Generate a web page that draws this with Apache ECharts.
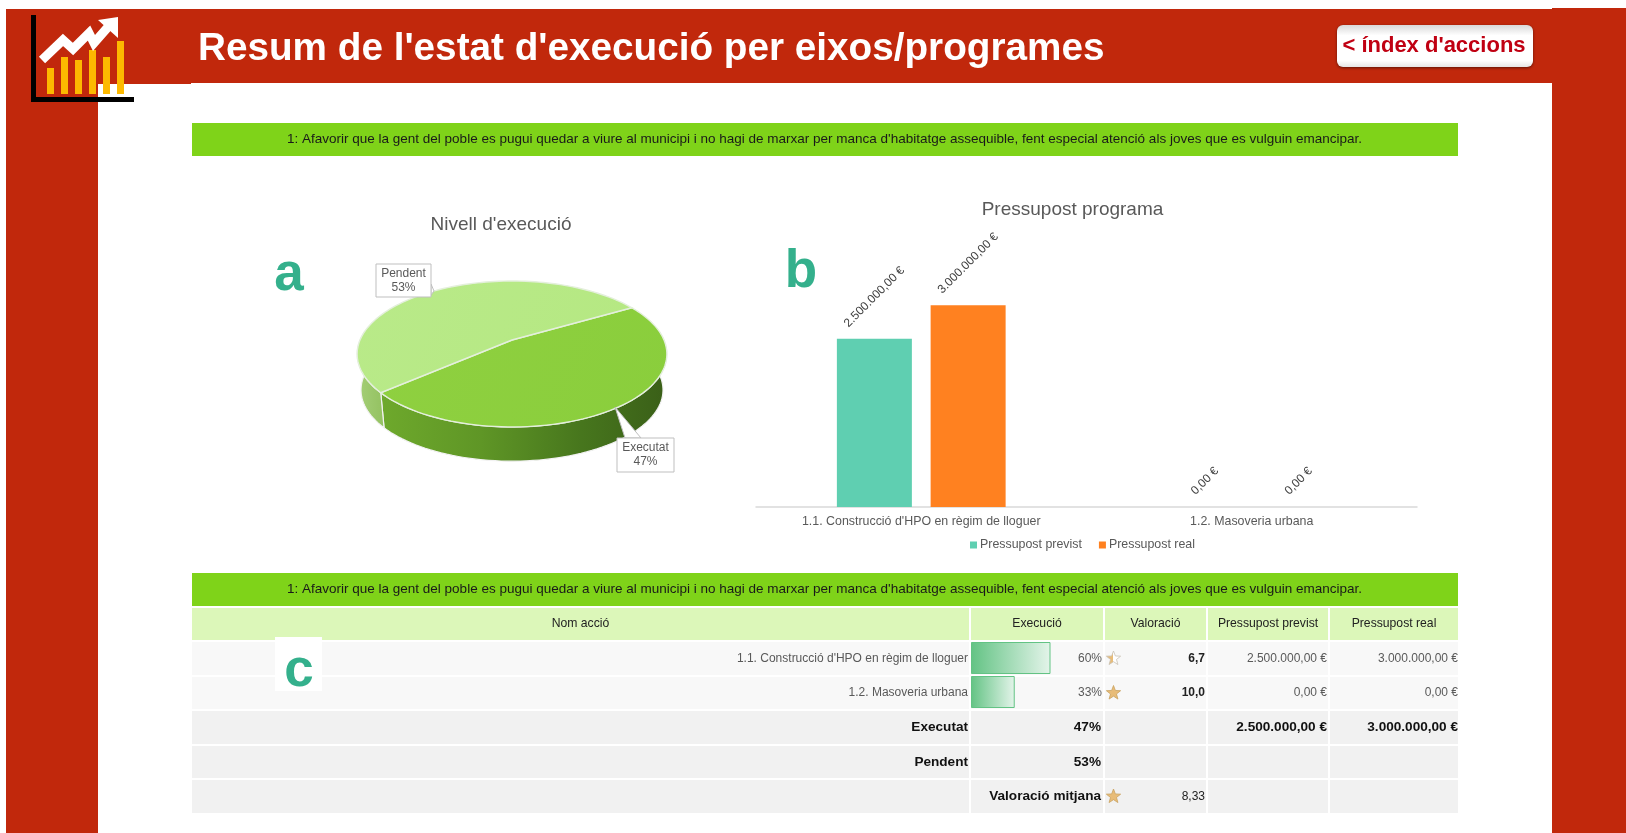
<!DOCTYPE html>
<html><head><meta charset="utf-8">
<style>html,body{margin:0;padding:0;background:#fff}#c{width:1626px;height:833px}</style>
<script src="https://cdn.jsdelivr.net/npm/echarts@6/dist/echarts.min.js"></script></head>
<body><div id="c"></div>
<script>
const pageTitle = "Resum de l'estat d'execució per eixos/programes";
const buttonText = "< índex d'accions";
const bandText = "1: Afavorir que la gent del poble es pugui quedar a viure al municipi i no hagi de marxar per manca d'habitatge assequible, fent especial atenció als joves que es vulguin emancipar.";
const pieNames = ["Executat", "Pendent"];
const pieValues = [47, 53];
const actions = ["1.1. Construcció d'HPO en règim de lloguer", "1.2. Masoveria urbana"];
const budgetPlanned = [2500000, 0];
const budgetReal = [3000000, 0];
const execution = [60, 33];
const ratings = [6.7, 10];
const ratingAvg = 8.33;
const budgetSeries = ["Pressupost previst", "Pressupost real"];
const tableHead = ["Nom acció", "Execució", "Valoració", "Pressupost previst", "Pressupost real"];

const FF = '"Liberation Sans", Arial, sans-serif';
const RED = '#c1280c', GREEN = '#7fd319', TEAL = '#34b08c';
const money = v => v.toFixed(2).replace('.', ',').replace(/\B(?=(\d{3})+(?!\d))/g, '.') + ' €';
const g = [];
const rect = (x, y, w, h, fill, extra) => g.push(Object.assign({type:'rect', shape:{x, y, width:w, height:h}, style:{fill}}, extra||{}));
const text = (t, x, y, font, fill, align) => g.push({type:'text', z:5, style:{text:t, x, y, font:font + ' ' + FF, fill, textAlign:align||'center', textVerticalAlign:'middle'}});

// page frame
rect(6, 9, 92, 824, RED);
rect(6, 9, 185, 75, RED);
rect(191, 9, 1361, 74, RED);
rect(1552, 8, 74, 825, RED);
// logo
[[47,68],[61,57],[75,60],[89,50],[103,57],[117,41]].forEach(b => rect(b[0], b[1], 7, 94 - b[1], '#fdb900', {z:2}));
g.push({type:'polyline', z:3, shape:{points:[[42,60],[63,40],[73,49],[89,33],[94,43],[108,27]]}, style:{stroke:'#fff', lineWidth:9, fill:null, lineJoin:'miter'}});
g.push({type:'polygon', z:3, shape:{points:[[98,20],[118,17],[118,38]]}, style:{fill:'#fff'}});
rect(31, 15, 5, 87, '#000', {z:3});
rect(31, 97, 103, 5, '#000', {z:3});
// button
g.push({type:'rect', z:3, shape:{x:1337, y:25, width:196, height:42, r:6}, style:{fill:{type:'linear',x:0,y:0,x2:0,y2:1,colorStops:[{offset:0,color:'#d9d9d9'},{offset:.25,color:'#fff'},{offset:.85,color:'#fff'},{offset:1,color:'#e6e6e6'}]}, shadowBlur:3, shadowColor:'rgba(0,0,0,.5)', shadowOffsetY:1}});
text(buttonText, 1434, 46, 'bold 22px', '#c00012');
// bands
rect(192, 123, 1266, 33, GREEN);
text(bandText, 824.5, 139.5, '13.5px', '#1a1a1a');
rect(192, 573, 1266, 33, GREEN);
text(bandText, 824.5, 589.5, '13.5px', '#1a1a1a');
// letters
text('a', 289, 275, 'bold 53px', TEAL);
text('b', 801, 272, 'bold 53px', TEAL);

// table
const cols = [[192,969],[971,1103],[1105,1206],[1208,1328],[1330,1458]];
const rows = [[608,640],[642,675],[677,709],[711,744],[746,778],[780,813]];
const fills = ['#dcf7b9','#f8f8f8','#f8f8f8','#f1f1f1','#f1f1f1','#f1f1f1'];
rows.forEach((r, i) => cols.forEach(c => rect(c[0], r[0], c[1]-c[0], r[1]-r[0], fills[i])));
const mid = i => (rows[i][0] + rows[i][1]) / 2;
tableHead.forEach((h, j) => text(h, (cols[j][0]+cols[j][1])/2, mid(0), '12.2px', '#222'));
function star(cx, cy, r, share){
  const pts = [];
  for (let k = 0; k < 10; k++){
    const a = -Math.PI/2 + k*Math.PI/5, rr = k%2 ? r*.42 : r;
    pts.push([cx + rr*Math.cos(a), cy + rr*Math.sin(a)]);
  }
  const s = share >= 1 ? 1 : .5;
  g.push({type:'polygon', z:4, shape:{points:pts}, style:{lineWidth:.8, stroke: s<1 ? '#c9c2b4' : '#c9a25f',
    fill:{type:'linear',x:0,y:0,x2:1,y2:0,colorStops:[{offset:0,color:'#e8bc78'},{offset:s,color:'#e8bc78'},{offset:s,color:'#fff'},{offset:1,color:'#fff'}]}}});
}
actions.forEach((a, i) => {
  const y = mid(i+1);
  text(a, 968, y, '12px', '#595959', 'right');
  text(execution[i] + '%', 1102, y, '12px', '#595959', 'right');
  star(1113.5, y, 7.5, ratings[i] / 10);
  text(ratings[i].toFixed(1).replace('.', ','), 1205, y, 'bold 12px', '#222', 'right');
  text(money(budgetPlanned[i]), 1327, y, '12px', '#595959', 'right');
  text(money(budgetReal[i]), 1458, y, '12px', '#595959', 'right');
});
const sum = a => a.reduce((p, c) => p + c, 0);
const BOLD = 'bold 13.6px';
text(pieNames[0], 968, mid(3), BOLD, '#111', 'right');
text(pieValues[0] + '%', 1101, mid(3), BOLD, '#111', 'right');
text(money(sum(budgetPlanned)), 1327, mid(3), BOLD, '#111', 'right');
text(money(sum(budgetReal)), 1458, mid(3), BOLD, '#111', 'right');
text(pieNames[1], 968, mid(4), BOLD, '#111', 'right');
text(pieValues[1] + '%', 1101, mid(4), BOLD, '#111', 'right');
text('Valoració mitjana', 1101, mid(5), BOLD, '#111', 'right');
star(1113.5, mid(5), 7.5, 1);
text(ratingAvg.toFixed(2).replace('.', ','), 1205, mid(5), '12px', '#222', 'right');
// letter c patch
rect(275, 637, 47, 54, '#fff', {z:6});
g.push({type:'text', z:7, style:{text:'c', x:299, y:671, font:'bold 53px ' + FF, fill:TEAL, textAlign:'center', textVerticalAlign:'middle'}});

// tilted 3D pie drawn from the values through a perspective projection
const P = {cx:512, cy:340, R:152, ky:70.3, c:-.1918, depth:36, shrink:.975, start:-30.2};
function proj(deg, floor){
  const t = deg*Math.PI/180, u = Math.cos(t), v = Math.sin(t), w = 1 + P.c*v;
  const s = floor ? P.shrink : 1;
  const x = P.cx + s*P.R*u/w;
  const y = P.cy + s*P.ky*v/w + (floor ? P.depth + (1-s)*14 : 0);
  return [x, y];
}
function arc(a0, a1, floor){ const o = [], n = Math.max(2, Math.ceil(Math.abs(a1-a0)/2));
  for (let i = 0; i <= n; i++) o.push(proj(a0 + (a1-a0)*i/n, floor)); return o; }
const total = sum(pieValues);
const pieStyle = [
  {top:'#8fd040', topTo:'#8ace3c', wall:[[0,'#6ea92c'],[.35,'#5f9626'],[.7,'#47761d'],[1,'#3a5f18']]},
  {top:'#b9ea89', topTo:'#b5e882', wall:[[0,'#a5cf78'],[1,'#93c160']]}
];
const callouts = [
  {box:[617,438,57,34], tip:[[625,438],[615,407],[641,438]], tx:645.5, ty:455},
  {box:[376,264,55,33], tip:[[431,284],[434,291],[431,295]], tx:403.5, ty:280.5}
];
function renderPie(params, api){
  const i = params.dataIndex;
  let before = 0; for (let k = 0; k < i; k++) before += pieValues[k];
  const v = api.value(0);
  const a0 = P.start + before/total*360, a1 = a0 + v/total*360;
  const children = [];
  const lo = Math.max(a0, -6), hi = Math.min(a1, 186);
  const st = pieStyle[i];
  if (hi > lo){
    children.push({type:'polygon', z2:1, shape:{points:arc(lo, hi, false).concat(arc(hi, lo, true))},
      style:{fill:{type:'linear',x:0,y:0,x2:1,y2:0,colorStops:st.wall.map(s => ({offset:s[0], color:s[1]}))}, stroke:'#f2f2f2', lineWidth:1.2}});
  }
  children.push({type:'polygon', z2:2, shape:{points:[[P.cx, P.cy]].concat(arc(a0, a1, false))},
    style:{fill:{type:'linear',x:0,y:0,x2:1,y2:1,colorStops:[{offset:0,color:st.top},{offset:1,color:st.topTo}]}, stroke:'#e4efdc', lineWidth:1.4}});
  const c = callouts[i], b = c.box;
  children.push({type:'polygon', z2:5, shape:{points:c.tip}, style:{fill:'#fff', stroke:'#bfbfbf', lineWidth:1}});
  children.push({type:'rect', z2:6, shape:{x:b[0], y:b[1], width:b[2], height:b[3]}, style:{fill:'#fff', stroke:'#bfbfbf', lineWidth:1}});
  children.push({type:'text', z2:7, style:{text:pieNames[i] + '\n' + Math.round(v/total*100) + '%', x:c.tx, y:c.ty, font:'12px ' + FF, lineHeight:14, fill:'#595959', textAlign:'center', textVerticalAlign:'middle'}});
  return {type:'group', children};
}

const barSeries = (color, vals, name) => ({
  type:'bar', name, xAxisIndex:0, yAxisIndex:0, barWidth:75, barGap:'25%',
  itemStyle:{color},
  data: vals.map(v => ({value:v, label:{offset: v > 0 ? [26, -26] : [14.8, -14.8]}})),
  label:{show:true, position:'top', rotate:45, align:'center', verticalAlign:'middle',
    formatter:p => money(p.value), fontFamily:FF, fontSize:12, color:'#404040'}
});

const chart = echarts.init(document.getElementById('c'));
chart.setOption({
  animation:false,
  textStyle:{fontFamily:FF},
  title:[
    {text:pageTitle, left:193, top:25, textStyle:{color:'#fff', fontSize:38.7, fontWeight:'bold', fontFamily:FF}},
    {text:"Nivell d'execució", left:496, top:210, textAlign:'center', textStyle:{color:'#595959', fontSize:19, fontWeight:'normal', fontFamily:FF}},
    {text:"Pressupost programa", left:1067.5, top:195, textAlign:'center', textStyle:{color:'#595959', fontSize:19, fontWeight:'normal', fontFamily:FF}}
  ],
  legend:{left:965, top:534, itemWidth:7, itemHeight:7, itemGap:17, data:budgetSeries, icon:'rect',
    textStyle:{color:'#595959', fontSize:12.4, fontFamily:FF, padding:[0,0,0,-2]}},
  grid:[
    {left:756, width:661, top:271.5, height:235.5},
    {left:971, width:132.5, top:641, height:68}
  ],
  xAxis:[
    {gridIndex:0, type:'category', data:actions, axisTick:{show:false}, axisLine:{lineStyle:{color:'#d9d9d9', width:1.5}},
      axisLabel:{color:'#595959', fontSize:12.4, fontFamily:FF, margin:9}},
    {gridIndex:1, type:'value', min:0, max:100, show:false}
  ],
  yAxis:[
    {gridIndex:0, type:'value', min:0, max:3500000, show:false},
    {gridIndex:1, type:'category', inverse:true, data:actions, show:false}
  ],
  graphic:{elements:g},
  series:[
    barSeries('#5fcfb1', budgetPlanned, budgetSeries[0]),
    barSeries('#ff8120', budgetReal, budgetSeries[1]),
    {type:'bar', name:'Execució', xAxisIndex:1, yAxisIndex:1, barWidth:32, data:execution, z:3,
      itemStyle:{borderColor:'#63c384', borderWidth:1,
        color:{type:'linear',x:0,y:0,x2:1,y2:0,colorStops:[{offset:0,color:'#63c384'},{offset:1,color:'#e4f4ea'}]}}},
    {type:'custom', coordinateSystem:'none', renderItem:renderPie, z:3, data:pieValues.map(v => [v])}
  ]
});
</script></body></html>
